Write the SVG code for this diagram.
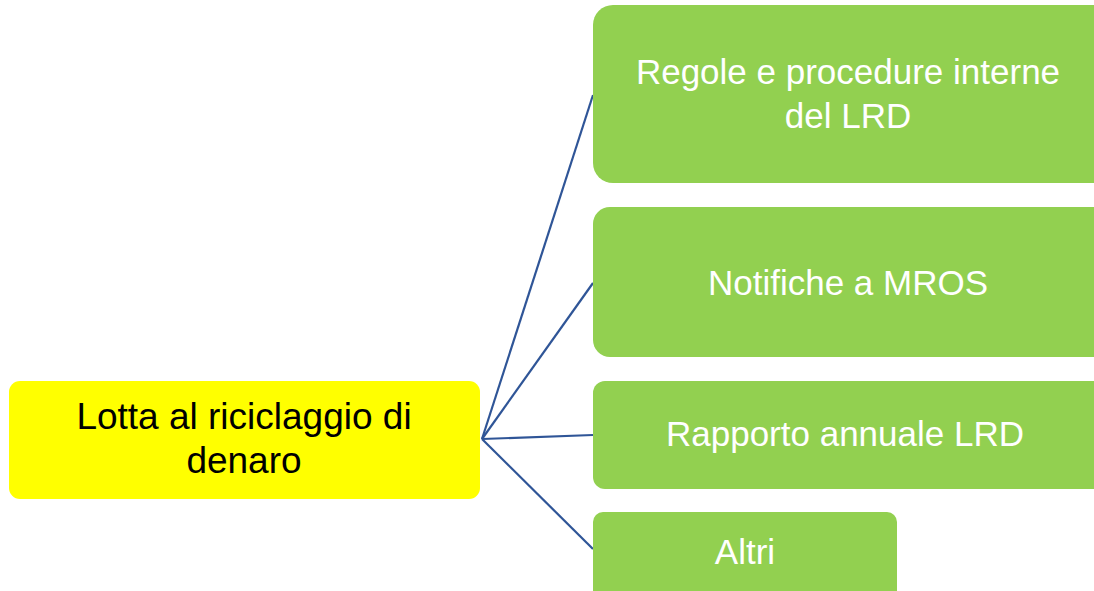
<svg xmlns="http://www.w3.org/2000/svg" width="1094" height="591" viewBox="0 0 1094 591">
<style>
.g{fill:#92D050;}
.y{fill:#FFFF00;}
.t{font-family:"Liberation Sans",Arial,sans-serif;font-size:35px;text-anchor:middle;}
.big{font-size:37px;}
.w{fill:#FFFFFF;}
.k{fill:#000000;}
.c{stroke:#2F5597;stroke-width:2.2;fill:none;}
</style>
<rect width="1094" height="591" fill="#FFFFFF"/>
<g id="connectors">
<line class="c" x1="482" y1="439" x2="593" y2="95"/>
<line class="c" x1="482" y1="439" x2="593" y2="283"/>
<line class="c" x1="482" y1="439" x2="593" y2="435"/>
<line class="c" x1="482" y1="439" x2="593" y2="549"/>
</g>
<g id="root">
<rect class="y" x="9" y="381" width="471" height="118" rx="11"/>
<text class="t big k" x="244" y="429">Lotta al riciclaggio di</text>
<text class="t big k" x="244" y="473">denaro</text>
</g>
<g id="n1">
<rect class="g" x="593" y="5" width="520" height="178" rx="20"/>
<text class="t w" x="848" y="84">Regole e procedure interne</text>
<text class="t w" x="848" y="128">del LRD</text>
</g>
<g id="n2">
<rect class="g" x="593" y="207" width="520" height="150" rx="17"/>
<text class="t w" x="848" y="295">Notifiche a MROS</text>
</g>
<g id="n3">
<rect class="g" x="593" y="381" width="520" height="108" rx="12"/>
<text class="t w" x="845" y="446">Rapporto annuale LRD</text>
</g>
<g id="n4">
<rect class="g" x="593" y="512" width="304" height="100" rx="10"/>
<text class="t w" x="745" y="564">Altri</text>
</g>
</svg>
